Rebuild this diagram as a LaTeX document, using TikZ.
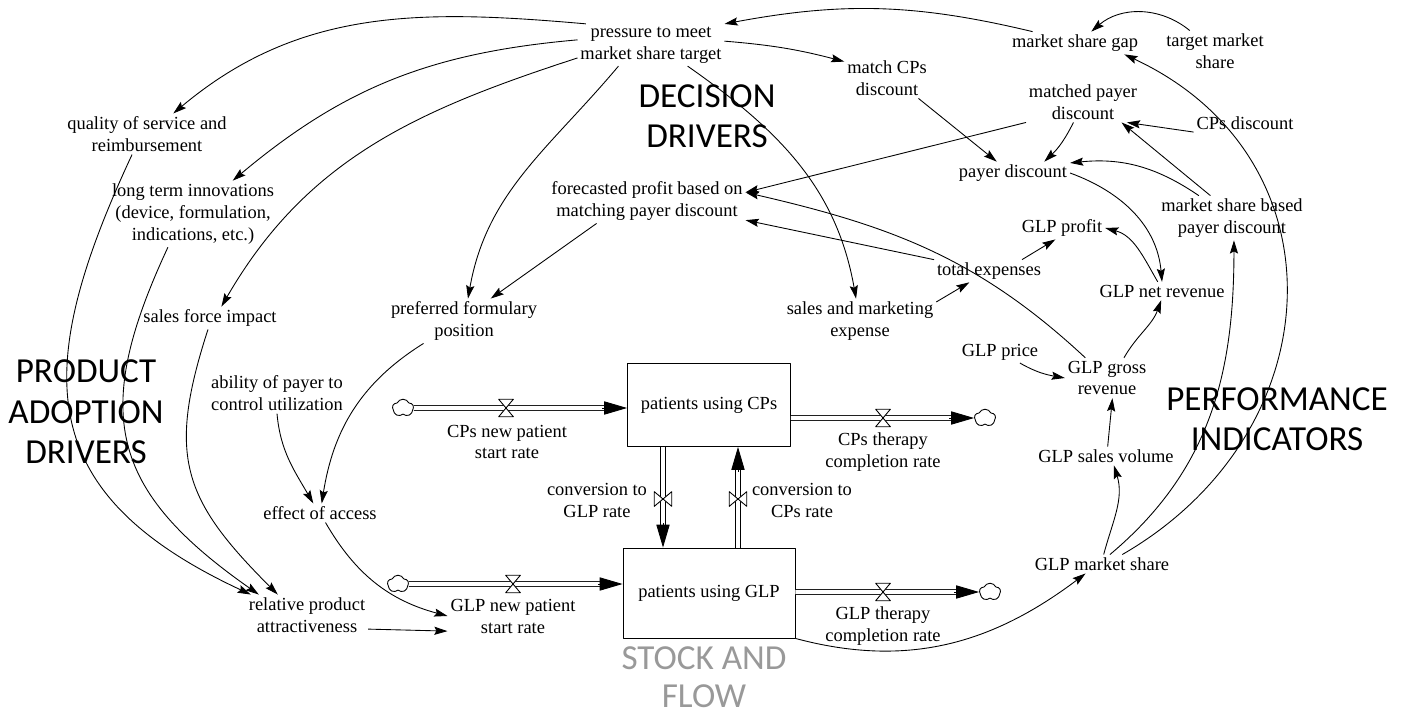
\documentclass[tikz,border=0pt]{standalone}
\usepackage{fontspec}
\setmainfont{Liberation Serif}
\newfontfamily\zonefont{Carlito}
\usetikzlibrary{arrows.meta,shapes.symbols}

\begin{document}
\begin{tikzpicture}[x=0.02cm,y=0.02cm,line join=round,
	font=\fontsize{10.5}{12.5}\selectfont,
	var/.style={align=center,inner sep=1.5pt},
	zone/.style={align=center,font=\zonefont\fontsize{20}{23}\selectfont},
	link/.style={-{Stealth[length=7.5pt,width=4.6pt,inset=1.2pt]},line width=0.5pt},
	stock/.style={draw,line width=0.5pt,minimum width=3.26cm,minimum height=1.66cm},
	pipe/.style={double,double distance=2.3pt,line width=0.5pt,shorten >=11pt},
	pipetip/.style={-{Triangle[length=13pt,width=7.5pt]},line width=0.5pt},
	sink/.style={cloud,cloud puffs=5,cloud puff arc=130,draw,fill=white,
		line width=0.5pt,minimum width=12pt,minimum height=10pt,inner sep=0pt},
	valve/.pic={\draw[fill=white,line width=0.5pt] (-4.2pt,-5pt) -- (4.2pt,-5pt)
		-- (-4.2pt,5pt) -- (4.2pt,5pt) -- cycle;}]
	\useasboundingbox (0,0) rectangle (1403,-716);

	\node[zone] (dd) at (707,-116) {DECISION\\DRIVERS};
	\node[zone] (pad) at (86,-412) {PRODUCT\\ADOPTION\\DRIVERS};
	\node[zone] (pi) at (1277,-419) {PERFORMANCE\\INDICATORS};
	\node[zone,text=black!40,font=\zonefont\fontsize{20}{21.5}\selectfont] (sf) at (704,-677) {STOCK AND\\FLOW};

	\node[var] (pmt) at (651,-45) {pressure to meet\\market share target};
	\node[var] (msg) at (1075,-43) {market share gap};
	\node[var] (tms) at (1215,-51) {target market\\share};
	\node[var] (mcd) at (887,-78) {match CPs\\discount};
	\node[var] (mpd) at (1083,-102) {matched payer\\discount};
	\node[var] (cpd) at (1245,-123) {CPs discount};
	\node[var] (pd) at (1013,-173) {payer discount};
	\node[var] (msb) at (1232,-218) {market share based\\payer discount};
	\node[var] (fpb) at (647,-201) {forecasted profit based on\\matching payer discount};
	\node[var] (gp) at (1062,-228) {GLP profit};
	\node[var] (te) at (989,-271) {total expenses};
	\node[var] (gnr) at (1162,-291) {GLP net revenue};
	\node[var] (sme) at (860,-321) {sales and marketing\\expense};
	\node[var] (pfp) at (464,-321) {preferred formulary\\position};
	\node[var] (gpr) at (1000,-352) {GLP price};
	\node[var] (ggr) at (1107,-378) {GLP gross\\revenue};
	\node[var] (gsv) at (1106,-456) {GLP sales volume};
	\node[var] (gms) at (1102,-564) {GLP market share};
	\node[var] (qos) at (147,-134) {quality of service and\\reimbursement};
	\node[var] (lti) at (193,-214) {long term innovations\\(device, formulation,\\indications, etc.)};
	\node[var] (sfi) at (210,-318) {sales force impact};
	\node[var] (apc) at (277,-393) {ability of payer to\\control utilization};
	\node[var] (eoa) at (320,-513) {effect of access};
	\node[var] (rpa) at (307,-615) {relative product\\attractiveness};

	\node[stock] (cps) at (709,-405) {patients using CPs};
	\node[stock,minimum width=3.44cm,minimum height=1.8cm] (glp) at (709,-593) {patients using GLP};
	\node[sink] (c1) at (403,-408) {};
	\node[sink] (c2) at (985,-418) {};
	\node[sink] (c3) at (398,-584) {};
	\node[sink] (c4) at (990,-592) {};
	\coordinate (i1) at (c1 -| cps.west);
	\coordinate (o1) at (cps.east |- c2);
	\coordinate (i2) at (c3 -| glp.west);
	\coordinate (o2) at (glp.east |- c4);
	\coordinate (v1) at (506,-408);
	\coordinate (v2) at (883,-418);
	\coordinate (v3) at (513,-584);
	\coordinate (v4) at (883,-592);
	\coordinate (v5) at (663,-499);
	\coordinate (v6) at (738,-499);
	\coordinate (k1) at (v5 |- cps.south);
	\coordinate (k2) at (v5 |- glp.north);
	\coordinate (k3) at (v6 |- glp.north);
	\coordinate (k4) at (v6 |- cps.south);

	\draw[pipe] (c1.east) -- (i1);
	\draw[pipetip] ([xshift=-14pt]i1) -- (i1);
	\draw[pipe] (o1) -- (c2.west);
	\draw[pipetip] ([xshift=-14pt]c2.west) -- (c2.west);
	\draw[pipe] (c3.east) -- (i2);
	\draw[pipetip] ([xshift=-14pt]i2) -- (i2);
	\draw[pipe] (o2) -- (c4.west);
	\draw[pipetip] ([xshift=-14pt]c4.west) -- (c4.west);
	\draw[pipe] (k1) -- (k2);
	\draw[pipetip] ([yshift=14pt]k2) -- (k2);
	\draw[pipe] (k3) -- (k4);
	\draw[pipetip] ([yshift=-14pt]k4) -- (k4);
	\pic at (v1) {valve};
	\pic at (v2) {valve};
	\pic at (v3) {valve};
	\pic at (v4) {valve};
	\pic[rotate=90] at (v5) {valve};
	\pic[rotate=90] at (v6) {valve};

	\node[var] (cnp) at (507,-442) {CPs new patient\\start rate};
	\node[var] (ctc) at (883,-452) {CPs therapy\\completion rate};
	\node[var] (gnp) at (513,-616) {GLP new patient\\start rate};
	\node[var] (gtc) at (883,-626) {GLP therapy\\completion rate};
	\node[var] (cgr) at (597,-500) {conversion to\\GLP rate};
	\node[var] (ccr) at (802,-500) {conversion to\\CPs rate};

	\draw[link] (msg.165) to[bend right=12] (pmt.16);
	\draw[link] (tms.141) to[bend right=40] (msg.35);
	\draw[link] (pmt.3) to[bend left=5] (mcd.159);
	\draw[link] (pmt.162) to[out=175,in=40] (qos.38);
	\draw[link] (pmt.176) to[out=185,in=40] (lti.40);
	\draw[link] (pmt.190) to[out=198,in=60] (sfi.45);
	\draw[link] (pmt.-147) to[out=230,in=80] (pfp.80);
	\draw[link] (pmt.-30) to[out=-35,in=100] (sme.100);
	\draw[link] (fpb.-156) -- (pfp.40);
	\draw[link] (mpd.south west) -- (fpb.5);
	\draw[link] (ggr.137) to[out=137,in=-13] (fpb.5);
	\draw[link] (te.north west) -- (fpb.-11);
	\draw[link] (mcd.-33) -- (pd.145);
	\draw[link] (mpd.-115) to[bend left=10] (pd.20);
	\draw[link] (cpd.190) -- (mpd.-25);
	\draw[link] (msb.134) -- (mpd.-28);
	\draw[link] (msb.146) to[bend right=20] (pd.10);
	\draw[link] (pd.east) to[out=-20,in=95] (gnr.north);
	\draw[link] (gnr.115) to[out=120,in=-15] (gp.east);
	\draw[link] (te.19) -- (gp.-120);
	\draw[link] (sme.14) -- (te.-150);
	\draw[link] (gpr.-29) to[out=-30,in=170] (ggr.west);
	\draw[link] (ggr.50) to[out=60,in=-110] (gnr.-95);
	\draw[link] (gsv.80) -- (ggr.-75);
	\draw[link] (gms.80) to[out=75,in=-73] (gsv.-50);
	\draw[link] (gms.50) to[out=40,in=-90] (msb.-85);
	\draw[link] (gms.25) to[out=30,in=-25,looseness=1.25] (msg.-13);
	\draw[link] (glp.south east) to[out=-15,in=-143] (gms.-150);
	\draw[link] (qos.-126) to[out=245,in=155,looseness=1.35] (rpa.160);
	\draw[link] (lti.-127) to[out=245,in=145,looseness=1.3] (rpa.157);
	\draw[link] (sfi.-100) to[out=252,in=135,looseness=1.25] (rpa.145);
	\draw[link] (pfp.-151) to[out=212,in=81] (eoa.80);
	\draw[link] (apc.south) to[out=-85,in=120] (eoa.125);
	\draw[link] (eoa.-60) to[out=-60,in=165] (gnp.west);
	\draw[link] (rpa.-13) -- (gnp.-167);
\end{tikzpicture}
\end{document}
